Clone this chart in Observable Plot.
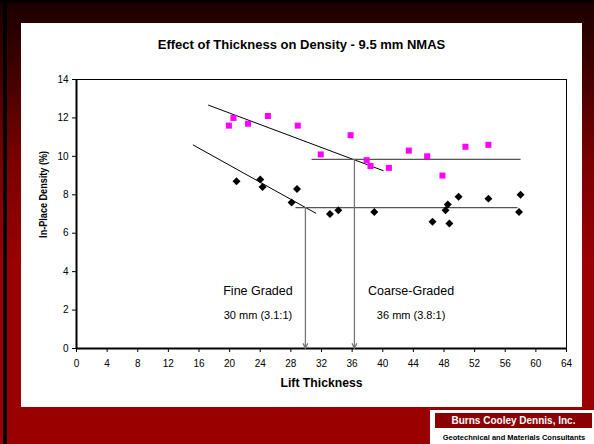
<!DOCTYPE html>
<html>
<head>
<meta charset="utf-8">
<script src="https://cdn.jsdelivr.net/npm/d3@7"></script>
<script src="https://cdn.jsdelivr.net/npm/@observablehq/plot@0.6"></script>
<style>
  body { margin: 0; }
  #page { position: relative; width: 594px; height: 444px; overflow: hidden;
    background: linear-gradient(to bottom, #000000 0px, #1c0000 4px, #3a0000 60px, #7a0000 160px, #990000 260px, #990000 100%);
    font-family: "Liberation Sans", Arial, sans-serif; }
  #leftbar { position: absolute; left: 3px; top: 0; width: 4px; height: 444px; background: #000; }
  #panel { position: absolute; left: 21px; top: 23px; width: 561px; height: 384px; background: #fff; }
  #title { position: absolute; left: 21px; width: 561px; top: 37px; text-align: center; font-weight: bold; font-size: 13px; line-height: 15px; color: #000; }
  #chart { position: absolute; left: 0; top: 0; }
  #logo { position: absolute; left: 430px; top: 410px; width: 164px; height: 34px; background: #fff; }
  #logo1 { position: absolute; left: 5px; top: 3px; width: 157px; height: 15px; background: #8b0000; color: #fff; font-weight: bold; font-size: 10px; text-align: center; line-height: 15px; }
  #logo2 { position: absolute; left: 0; top: 23px; width: 168px; text-align: center; font-weight: bold; font-size: 7.5px; color: #000; }
</style>
</head>
<body>
<div id="page">
  <div id="leftbar"></div>
  <div id="panel"></div>
  <div id="title">Effect of Thickness on Density - 9.5 mm NMAS</div>
  <div id="chart"></div>
  <div id="logo"><div id="logo1">Burns Cooley Dennis, Inc.</div><div id="logo2">Geotechnical and Materials Consultants</div></div>
</div>
<script>
// Coarse-graded (magenta squares)
const coarseX = [19.9, 20.5, 22.4, 25.0, 28.9, 31.9, 35.8, 37.9, 38.4, 40.8, 43.4, 45.8, 47.8, 50.8, 53.8];
const coarseY = [11.6, 12.0, 11.7, 12.1, 11.6, 10.1, 11.1, 9.8, 9.5, 9.4, 10.3, 10.0, 9.0, 10.5, 10.6];
// Fine-graded (black diamonds)
const fineX = [20.9, 24.0, 24.3, 28.8, 28.1, 33.1, 34.2, 38.9, 46.5, 48.7, 48.2, 48.5, 49.9, 53.8, 58.0, 57.8];
const fineY = [8.7, 8.8, 8.4, 8.3, 7.6, 7.0, 7.2, 7.1, 6.6, 6.5, 7.2, 7.5, 7.9, 7.8, 8.0, 7.1];
// Trend lines (start / end)
const coarseTrendX = [17.2, 40.1];
const coarseTrendY = [12.67, 9.25];
const fineTrendX = [15.2, 31.3];
const fineTrendY = [10.6, 7.03];
// Plateau levels
const coarseLevel = 9.84, coarseLevelX = [30.7, 58.0];
const fineLevel = 7.33, fineLevelX = [28.6, 57.6];
// Break points
const coarseBreak = 36.3;
const fineBreak = 29.9;
// Ticks
const xTicks = d3.range(0, 65, 4);
const yTicks = d3.range(0, 15, 2);
// Annotations
const annoX = [23.7, 23.7, 43.7, 43.7];
const annoY = [2.97, 1.72, 2.97, 1.72];
const annoText = ["Fine Graded", "30 mm (3.1:1)", "Coarse-Graded", "36 mm (3.8:1)"];
const annoSize = [12.5, 11, 12.5, 11];
const yLabel = "In-Place Density (%)";
const yLabelAt = 8.02;
const xLabel = "Lift Thickness";

const coarse = coarseX.map((x, i) => ({x, y: coarseY[i]}));
const fine = fineX.map((x, i) => ({x, y: fineY[i]}));
const anno = annoText.map((t, i) => ({x: annoX[i], y: annoY[i], t, s: annoSize[i]}));
const levels = [
  {x1: coarseLevelX[0], x2: coarseLevelX[1], y: coarseLevel},
  {x1: fineLevelX[0], x2: fineLevelX[1], y: fineLevel}
];
const drops = [
  {x: coarseBreak, y1: coarseLevel, y2: 0},
  {x: fineBreak, y1: fineLevel, y2: 0}
];
const trends = [
  {x1: coarseTrendX[0], y1: coarseTrendY[0], x2: coarseTrendX[1], y2: coarseTrendY[1]},
  {x1: fineTrendX[0], y1: fineTrendY[0], x2: fineTrendX[1], y2: fineTrendY[1]}
];

const chart = Plot.plot({
  width: 594,
  height: 444,
  marginLeft: 76,
  marginRight: 28,
  marginTop: 79,
  marginBottom: 96,
  style: {background: "transparent", fontFamily: "Liberation Sans, Arial, sans-serif", fontSize: "10px", color: "#000"},
  x: {domain: [0, 64], ticks: xTicks, label: null},
  y: {domain: [0, 14], ticks: yTicks, label: null},
  marks: [
    Plot.frame({stroke: "#000", strokeWidth: 1}),
    Plot.axisX({ticks: xTicks, tickSize: 4, tickPadding: 7, label: null, fontSize: 10}),
    Plot.axisY({ticks: yTicks, tickSize: 4, tickPadding: 4, label: null, fontSize: 10}),
    Plot.ruleX([0], {stroke: "#000", strokeWidth: 2}),
    Plot.ruleY([0], {stroke: "#000", strokeWidth: 2}),
    Plot.link(trends, {x1: "x1", y1: "y1", x2: "x2", y2: "y2", stroke: "#000", strokeWidth: 1}),
    Plot.link(levels, {x1: "x1", x2: "x2", y1: "y", y2: "y", stroke: "#555", strokeWidth: 1.3}),
    Plot.arrow(drops, {x1: "x", x2: "x", y1: "y1", y2: "y2", stroke: "#777", strokeWidth: 1.3, headLength: 6, headAngle: 50}),
    Plot.dot(coarse, {x: "x", y: "y", symbol: "square", r: 3.4, fill: "#ff00ff", stroke: "none"}),
    Plot.dot(fine, {x: "x", y: "y", symbol: "diamond2", r: 3.6, fill: "#000", stroke: "none"}),
    Plot.text(anno, {x: "x", y: "y", text: "t", fontSize: "s", fill: "#000"}),
    Plot.text([yLabel], {x: 0, y: yLabelAt, dx: -33, rotate: -90, fontWeight: "bold", fontSize: 10.5, fill: "#000"}),
    Plot.text([xLabel], {frameAnchor: "bottom", dy: 38, fontWeight: "bold", fontSize: 12.2, fill: "#000"})
  ]
});
d3.select(chart).selectAll("text").filter(function() { return this.textContent === yLabel; })
  .attr("textLength", 87).attr("lengthAdjust", "spacingAndGlyphs");
document.getElementById("chart").appendChild(chart);
</script>
</body>
</html>
